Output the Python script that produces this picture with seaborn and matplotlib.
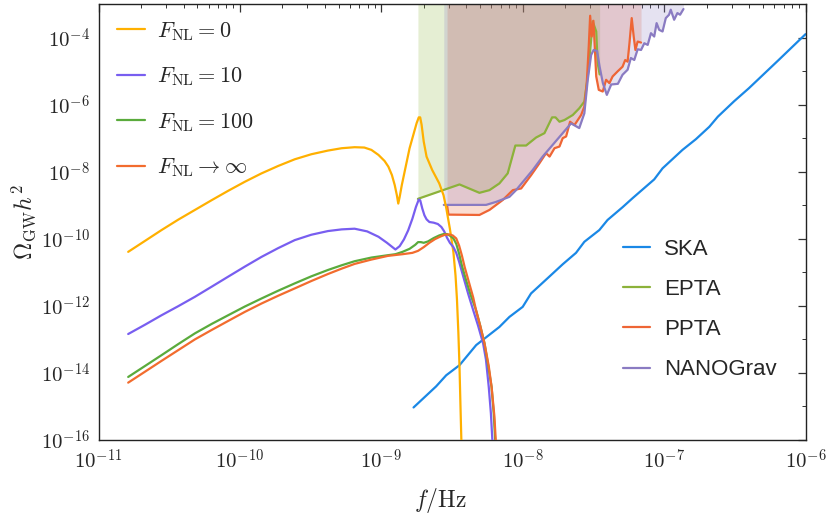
import numpy as np
import pandas as pd
import matplotlib
matplotlib.use("Agg")
import matplotlib.pyplot as plt
from matplotlib.ticker import FixedLocator, LogLocator, FuncFormatter, NullFormatter
import seaborn as sns

# ---------------- data (log10 f [Hz], log10 Omega_GW h^2) ----------------
fnl0_logf = [-10.79, -10.67, -10.554, -10.436, -10.318, -10.20, -10.083, -9.965, -9.847, -9.73,
             -9.612, -9.495, -9.377, -9.28, -9.189, -9.12, -9.07, -9.02, -8.977, -8.95, -8.925,
             -8.905, -8.89, -8.88, -8.87, -8.855, -8.83, -8.80, -8.77, -8.75, -8.735, -8.725,
             -8.715, -8.70, -8.68, -8.64, -8.59, -8.56, -8.54, -8.515, -8.49, -8.475, -8.465,
             -8.455, -8.447, -8.44, -8.432]
fnl0_logo = [-10.39, -10.06, -9.74, -9.43, -9.14, -8.85, -8.57, -8.30, -8.05, -7.83,
             -7.63, -7.48, -7.37, -7.30, -7.27, -7.28, -7.35, -7.50, -7.68, -7.85, -8.10,
             -8.40, -8.70, -8.95, -8.75, -8.40, -7.90, -7.30, -6.85, -6.55, -6.38, -6.38,
             -6.60, -7.10, -7.55, -7.95, -8.35, -8.70, -9.10, -9.70, -10.40, -11.10, -11.80,
             -12.80, -13.80, -15.00, -16.30]

fnl10_logf = [-10.79, -10.67, -10.554, -10.436, -10.318, -10.20, -10.083, -9.965, -9.847, -9.73,
              -9.612, -9.495, -9.377, -9.28, -9.189, -9.10, -9.02, -8.96, -8.90, -8.87, -8.84,
              -8.81, -8.78, -8.755, -8.735, -8.725, -8.71, -8.695, -8.68, -8.66, -8.63, -8.60,
              -8.575, -8.555, -8.535, -8.515, -8.49, -8.47, -8.45, -8.42, -8.385, -8.35, -8.315,
              -8.28, -8.26, -8.24, -8.225, -8.212]
fnl10_logo = [-12.84, -12.56, -12.28, -12.01, -11.73, -11.43, -11.13, -10.83, -10.54, -10.28,
              -10.04, -9.88, -9.77, -9.72, -9.70, -9.78, -9.94, -10.12, -10.32, -10.22, -10.02,
              -9.75, -9.40, -9.05, -8.83, -8.85, -9.10, -9.30, -9.42, -9.50, -9.52, -9.56,
              -9.65, -9.78, -9.97, -10.12, -10.25, -10.42, -10.68, -11.13, -11.65, -12.13, -12.60,
              -13.12, -13.60, -14.42, -15.20, -16.20]

fnl100_logf = [-10.79, -10.67, -10.554, -10.436, -10.318, -10.20, -10.083, -9.965, -9.847, -9.73,
               -9.612, -9.495, -9.377, -9.28, -9.189, -9.07, -8.953, -8.90, -8.85, -8.80, -8.76,
               -8.74, -8.72, -8.70, -8.67, -8.63, -8.59, -8.56, -8.535, -8.51, -8.49, -8.47,
               -8.45, -8.43, -8.40, -8.37, -8.33, -8.30, -8.27, -8.245, -8.22, -8.205, -8.192]
fnl100_logo = [-14.12, -13.79, -13.47, -13.14, -12.82, -12.54, -12.28, -12.02, -11.78, -11.55,
               -11.33, -11.12, -10.93, -10.79, -10.67, -10.56, -10.49, -10.46, -10.39, -10.30, -10.18,
               -10.10, -10.10, -10.12, -10.08, -9.98, -9.90, -9.86, -9.86, -9.92, -9.99, -10.15,
               -10.44, -10.80, -11.24, -11.65, -12.13, -12.60, -13.12, -13.75, -14.42, -15.20, -16.20]

fnlinf_logf = [-10.79, -10.67, -10.554, -10.436, -10.318, -10.20, -10.083, -9.965, -9.847, -9.73,
               -9.612, -9.495, -9.377, -9.28, -9.189, -9.07, -8.953, -8.85, -8.78, -8.74, -8.70,
               -8.66, -8.62, -8.58, -8.55, -8.52, -8.495, -8.47, -8.45, -8.43, -8.41, -8.38,
               -8.35, -8.33, -8.30, -8.27, -8.24, -8.22, -8.20, -8.188]
fnlinf_logo = [-14.29, -13.96, -13.64, -13.32, -13.00, -12.72, -12.45, -12.18, -11.93, -11.70,
               -11.48, -11.26, -11.05, -10.89, -10.75, -10.62, -10.51, -10.46, -10.42, -10.36, -10.25,
               -10.12, -10.01, -9.93, -9.88, -9.87, -9.90, -9.99, -10.20, -10.50, -10.85, -11.30,
               -11.75, -12.13, -12.60, -13.12, -13.80, -14.42, -15.30, -16.20]

ska_logf = [-8.772, -8.612, -8.541, -8.447, -8.329, -8.165, -8.094, -8.0, -7.941, -7.812, -7.717,
            -7.623, -7.564, -7.458, -7.4, -7.294, -7.223, -7.07, -7.011, -6.87, -6.775, -6.68,
            -6.62, -6.505, -6.4, -6.19, -6.0]
ska_logo = [-15.03, -14.40, -14.07, -13.77, -13.17, -12.63, -12.33, -12.03, -11.63, -11.13, -10.76,
            -10.42, -10.09, -9.74, -9.44, -9.06, -8.79, -8.23, -7.90, -7.35, -7.03, -6.66,
            -6.36, -5.90, -5.51, -4.67, -3.90]

epta_logf = [-8.741, -8.447, -8.306, -8.235, -8.165, -8.106, -8.052, -7.976, -7.905, -7.846, -7.792,
             -7.768, -7.74, -7.705, -7.646, -7.60, -7.564, -7.54, -7.516, -7.505, -7.48, -7.47,
             -7.456]
epta_logo = [-8.81, -8.38, -8.63, -8.55, -8.35, -8.05, -7.22, -7.22, -6.98, -6.85, -6.38,
             -6.38, -6.51, -6.46, -6.31, -6.11, -5.91, -5.16, -4.07, -3.52, -3.82, -4.76,
             -5.10]

ppta_logf = [-8.535, -8.525, -8.306, -8.235, -8.14, -8.07, -8.011, -7.94, -7.882, -7.835, -7.81,
             -7.775, -7.74, -7.717, -7.693, -7.665, -7.634, -7.587, -7.564, -7.547, -7.533, -7.523,
             -7.512, -7.50, -7.49, -7.48, -7.462, -7.434, -7.41, -7.387, -7.364, -7.329, -7.294,
             -7.275, -7.258, -7.245, -7.229, -7.215, -7.203, -7.187, -7.163]
ppta_logo = [-9.00, -9.28, -9.29, -9.14, -8.84, -8.55, -8.50, -8.10, -7.75, -7.45, -7.55,
             -7.30, -7.25, -7.00, -6.95, -6.51, -6.61, -6.31, -6.06, -5.36, -4.27, -3.35,
             -3.97, -3.50, -4.30, -5.16, -5.56, -5.61, -5.26, -5.36, -5.16, -5.01, -4.87,
             -4.67, -4.72, -4.17, -3.42, -3.97, -4.37, -4.12, -4.15]

nano_logf = [-8.558, -8.259, -8.188, -8.094, -8.047, -7.988, -7.929, -7.859, -7.788, -7.717, -7.658,
             -7.60, -7.564, -7.54, -7.516, -7.498, -7.474, -7.456, -7.433, -7.405, -7.374, -7.327,
             -7.294, -7.258, -7.235, -7.211, -7.187, -7.163, -7.14, -7.116, -7.093, -7.07, -7.053,
             -7.035, -7.011, -6.988, -6.965, -6.953, -6.929, -6.906, -6.887, -6.863]
nano_logo = [-8.99, -8.99, -8.90, -8.75, -8.55, -8.25, -7.95, -7.55, -7.20, -6.85, -6.56,
             -6.70, -6.26, -5.26, -4.52, -4.37, -4.40, -4.87, -5.36, -5.71, -5.40, -5.38,
             -5.11, -4.96, -4.61, -4.67, -4.35, -4.37, -4.17, -4.22, -3.87, -3.97, -3.57,
             -3.77, -3.82, -3.42, -3.32, -3.17, -3.47, -3.27, -3.32, -3.15]

model_labels = [r"$F_{\rm NL}=0$", r"$F_{\rm NL}=10$", r"$F_{\rm NL}=100$", r"$F_{\rm NL}\rightarrow\infty$"]
detector_labels = ["SKA", "EPTA", "PPTA", "NANOGrav"]
x_ticks_exp = [-11, -10, -9, -8, -7, -6]
y_ticks_exp = [-16, -14, -12, -10, -8, -6, -4]

# ---------------- style ----------------
sns.set_theme(style="white")
plt.rcParams["font.family"] = ["DejaVu Serif"]
plt.rcParams["mathtext.fontset"] = "cm"
plt.rcParams["axes.edgecolor"] = "#222222"
plt.rcParams["axes.linewidth"] = 1.0

model_colors = ["#ffb000", "#785ef0", "#5aab3c", "#f26c2e"]
det_colors = ["#1a88e6", "#8cb23a", "#ee6535", "#8a7bc2"]

fig = plt.figure(figsize=(8.26, 5.15), dpi=100)
ax = fig.add_axes([98.5 / 826, 75 / 515, 707 / 826, 436 / 515])
ax.set_xscale("log")
ax.set_yscale("log")

def frame(lf, lo):
    return pd.DataFrame({"f": np.power(10.0, lf), "omega": np.power(10.0, lo)})

# detector fills
fills = [(epta_logf, epta_logo, det_colors[1]),
         (ppta_logf, ppta_logo, det_colors[2]),
         (nano_logf, nano_logo, det_colors[3])]
for lf, lo, c in fills:
    d = frame(lf, lo)
    ax.fill_between(d["f"], d["omega"], 1e-1, color=c, alpha=0.22, lw=0, zorder=1)

# model curves
models = [(fnl0_logf, fnl0_logo), (fnl10_logf, fnl10_logo), (fnl100_logf, fnl100_logo), (fnlinf_logf, fnlinf_logo)]
for (lf, lo), c, lab in zip(models, model_colors, model_labels):
    sns.lineplot(data=frame(lf, lo), x="f", y="omega", ax=ax, color=c, lw=1.6,
                 sort=False, estimator=None, label=lab, zorder=3)

dets = [(ska_logf, ska_logo), (epta_logf, epta_logo), (ppta_logf, ppta_logo), (nano_logf, nano_logo)]
for (lf, lo), c, lab in zip(dets, det_colors, detector_labels):
    sns.lineplot(data=frame(lf, lo), x="f", y="omega", ax=ax, color=c, lw=1.6,
                 sort=False, estimator=None, label=lab, zorder=2)

ax.set_xlim(1e-11, 1e-6)
ax.set_ylim(1e-16, 1e-3)

ax.xaxis.set_major_locator(FixedLocator([10.0 ** e for e in x_ticks_exp]))
ax.xaxis.set_minor_locator(LogLocator(base=10, subs=np.arange(2, 10)))
ax.yaxis.set_major_locator(FixedLocator([10.0 ** e for e in y_ticks_exp]))
ax.yaxis.set_minor_locator(FixedLocator([10.0 ** e for e in range(-15, -2, 2)]))
fmt = FuncFormatter(lambda v, p: r"$10^{%d}$" % int(round(np.log10(v))))
ax.xaxis.set_major_formatter(fmt)
ax.yaxis.set_major_formatter(fmt)
ax.xaxis.set_minor_formatter(NullFormatter())
ax.yaxis.set_minor_formatter(NullFormatter())
ax.tick_params(which="both", direction="in", top=True, right=True, color="#333333", labelsize=15)
ax.tick_params(which="major", length=6, width=0.9, pad=6)
ax.tick_params(which="minor", length=3, width=0.7)

ax.set_xlabel(r"$f/\mathrm{Hz}$", fontsize=17)
ax.set_ylabel(r"$\Omega_{\rm GW}h^2$", fontsize=17)
ax.xaxis.set_label_coords(0.484, -0.105)
ax.yaxis.set_label_coords(-0.086, 0.5)

handles, labels = ax.get_legend_handles_labels()
leg1 = ax.legend(handles[:4], labels[:4], loc="upper left", bbox_to_anchor=(117 / 826, 1 - 20 / 515),
                 bbox_transform=fig.transFigure, frameon=False, fontsize=16, borderpad=0,
                 borderaxespad=0, handlelength=1.25, handletextpad=0.55, labelspacing=1.02)
ax.add_artist(leg1)
leg2 = ax.legend(handles[4:], labels[4:], loc="upper left", bbox_to_anchor=(622.7 / 826, 1 - 239 / 515),
                 bbox_transform=fig.transFigure, frameon=False, borderpad=0, borderaxespad=0,
                 handlelength=1.25, handletextpad=0.6, labelspacing=0.86,
                 prop={"family": "Liberation Sans", "size": 16})

fig.savefig("out.png", dpi=100)
